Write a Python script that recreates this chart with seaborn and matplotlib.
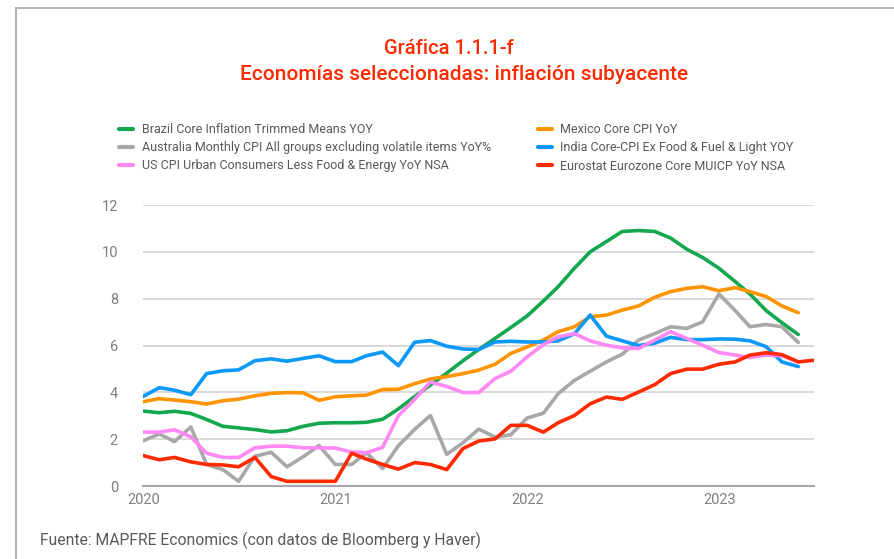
import pandas as pd
import matplotlib.pyplot as plt
import seaborn as sns
from matplotlib.lines import Line2D

# monthly data, month-end dates (Dec 2019 .. Jun 2023)
dates = pd.date_range('2019-12-31', periods=43, freq='ME')

brazil = [3.2, 3.13, 3.19, 3.1, 2.84, 2.55, 2.48, 2.41, 2.31, 2.36, 2.55, 2.68,
          2.7, 2.7, 2.72, 2.85, 3.29, 3.82, 4.31, 4.82, 5.35, 5.83, 6.3, 6.77,
          7.26, 7.9, 8.51, 9.3, 10.0, 10.44, 10.87, 10.91, 10.87, 10.59, 10.11, 9.76,
          9.3, 8.73, 8.2, 7.49, 6.97, 6.47]
mexico = [3.6, 3.73, 3.67, 3.6, 3.5, 3.64, 3.71, 3.85, 3.96, 3.99, 3.98, 3.66,
          3.81, 3.85, 3.88, 4.12, 4.13, 4.37, 4.57, 4.67, 4.8, 4.95, 5.2, 5.66,
          5.94, 6.23, 6.59, 6.8, 7.23, 7.3, 7.51, 7.69, 8.06, 8.3, 8.44, 8.51,
          8.34, 8.47, 8.3, 8.09, 7.69, 7.4]
australia = [1.93, 2.22, 1.9, 2.52, 0.92, 0.7, 0.2, 1.27, 1.44, 0.82, 1.25, 1.73,
             0.92, 0.92, 1.42, 0.75, 1.72, 2.42, 3.01, 1.35, 1.85, 2.43, 2.09, 2.19,
             2.9, 3.11, 3.94, 4.51, 4.9, 5.3, 5.63, 6.23, 6.51, 6.8, 6.73, 7.01,
             8.2, 7.49, 6.8, 6.9, 6.8, 6.13]
india = [3.82, 4.2, 4.09, 3.9, 4.8, 4.92, 4.96, 5.35, 5.43, 5.33, 5.45, 5.56,
         5.31, 5.31, 5.56, 5.72, 5.14, 6.14, 6.21, 5.97, 5.85, 5.83, 6.15, 6.18,
         6.15, 6.15, 6.2, 6.5, 7.3, 6.4, 6.2, 6.0, 6.1, 6.35, 6.25, 6.25,
         6.28, 6.27, 6.2, 5.95, 5.3, 5.1]
us = [2.3, 2.3, 2.4, 2.1, 1.4, 1.22, 1.22, 1.63, 1.7, 1.7, 1.63, 1.63,
      1.62, 1.45, 1.42, 1.65, 3.0, 3.7, 4.44, 4.25, 3.99, 3.99, 4.59, 4.9,
      5.51, 6.04, 6.37, 6.51, 6.2, 6.01, 5.9, 5.87, 6.23, 6.59, 6.3, 6.01,
      5.7, 5.59, 5.49, 5.59, 5.56, 5.3]
eurozone = [1.3, 1.12, 1.22, 1.03, 0.92, 0.9, 0.82, 1.22, 0.4, 0.2, 0.2, 0.2,
            0.2, 1.4, 1.15, 0.92, 0.72, 1.0, 0.92, 0.7, 1.6, 1.92, 2.01, 2.59,
            2.59, 2.3, 2.7, 3.01, 3.51, 3.8, 3.7, 4.01, 4.33, 4.8, 4.99, 4.99,
            5.2, 5.3, 5.59, 5.69, 5.61, 5.3, 5.37]

names = ['Brazil Core Inflation Trimmed Means YOY',
         'Mexico Core CPI YoY',
         'Australia Monthly CPI All groups excluding volatile items YoY%',
         'India Core-CPI Ex Food & Fuel & Light YOY',
         'US CPI Urban Consumers Less Food & Energy YoY NSA',
         'Eurostat Eurozone Core MUICP YoY NSA']
colors = ['#13A84E', '#FF9400', '#A8A8A8', '#0A98FA', '#FF88F5', '#FF2A00']
series = [brazil, mexico, australia, india, us, eurozone]

years = ['2020', '2021', '2022', '2023']
year_ticks = pd.to_datetime(['2020-01-01', '2021-01-01', '2022-01-01', '2023-01-01'])

frames = []
for name, vals in zip(names, series):
    frames.append(pd.DataFrame({'fecha': dates[:len(vals)], 'valor': vals, 'serie': name}))
df = pd.concat(frames, ignore_index=True)

sns.set_style('white')
plt.rcParams['font.family'] = ['Roboto', 'DejaVu Sans']

fig = plt.figure(figsize=(8.95, 5.59), dpi=100)
ax = fig.add_axes([143 / 895, 1 - 486 / 559, (814 - 143) / 895, (486 - 205) / 559])

sns.lineplot(data=df, x='fecha', y='valor', hue='serie', hue_order=names,
             palette=colors, linewidth=2.6, ax=ax, legend=False)

ax.set_ylim(0, 12)
ax.set_yticks(range(0, 13, 2))
ax.set_xlim(dates[0], dates[-1])
ax.set_xticks(year_ticks)
ax.set_xticklabels(years)
ax.set_xlabel('')
ax.set_ylabel('')

ax.set_axisbelow(True)
ax.yaxis.grid(True, color='#CFCFCF', linewidth=1.1)
ax.yaxis.get_gridlines()[0].set_visible(False)
for s in ['left', 'right', 'top']:
    ax.spines[s].set_visible(False)
ax.spines['bottom'].set_color('#A6A6A6')
ax.spines['bottom'].set_linestyle((0, (1, 1)))
ax.spines['bottom'].set_linewidth(1.5)
ax.tick_params(axis='both', length=0, labelsize=10.5, labelcolor='#7F7F7F')
ax.tick_params(axis='y', pad=18)
ax.tick_params(axis='x', pad=5)

# legend in two blocks
handles = [Line2D([], [], color=c, linewidth=3) for c in colors]
leg_kw = dict(loc='upper left', frameon=False, fontsize=9, handlelength=1.1,
              handletextpad=0.7, labelspacing=0.42, borderpad=0, borderaxespad=0,
              labelcolor='#595959')
leg1 = fig.legend([handles[0], handles[2], handles[4]], [names[0], names[2], names[4]],
                  bbox_to_anchor=(119 / 895, 1 - 123 / 559), **leg_kw)
leg2 = fig.legend([handles[1], handles[3], handles[5]], [names[1], names[3], names[5]],
                  bbox_to_anchor=(538 / 895, 1 - 123 / 559), **leg_kw)

red = '#FF2A00'
fig.text(0.502, 1 - 48 / 559, 'Gráfica 1.1.1-f', ha='center', va='center',
         color=red, fontsize=14.5, fontweight='medium')
fig.text(0.518, 1 - 75 / 559, 'Economías seleccionadas: inflación subyacente',
         ha='center', va='center', color=red, fontsize=15, fontweight='medium')

fig.text(40 / 895, 1 - 540 / 559,
         'Fuente: MAPFRE Economics (con datos de Bloomberg y Haver)',
         ha='left', va='center', color='#595959', fontsize=11.3)

# panel border (left and top)
fig.add_artist(Line2D([16 / 895, 16 / 895], [0, 1 - 8 / 559], transform=fig.transFigure,
                      color='#B4B4B4', linewidth=1.5))
fig.add_artist(Line2D([16 / 895, 1], [1 - 8 / 559, 1 - 8 / 559], transform=fig.transFigure,
                      color='#B4B4B4', linewidth=1.5))

fig.savefig('out.png', dpi=100)
